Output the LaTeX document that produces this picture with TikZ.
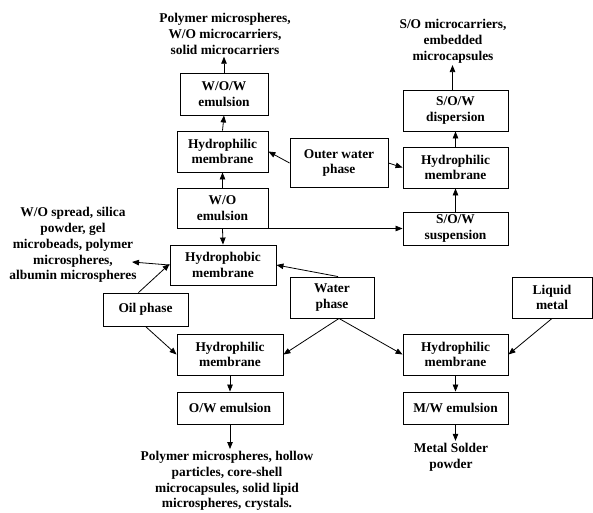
\documentclass[tikz,border=0pt]{standalone}
\usepackage{fontspec}
\setmainfont{Liberation Serif}
\usetikzlibrary{arrows.meta}
\begin{document}
\begin{tikzpicture}[x=1pt,y=-1pt,
  every node/.style={font=\bfseries\fontsize{13.4}{15.8}\selectfont, align=center},
  box/.style={draw, line width=0.9pt, inner sep=1pt},
  lbl/.style={inner sep=2pt},
  arr/.style={line width=0.8pt, -{Triangle[length=7pt,width=5.5pt]}}]
\useasboundingbox (0,0) rectangle (593,512);
% boxes
\node[box, minimum width=88pt, minimum height=42pt] (wow) at (224,94) {W/O/W\\emulsion};
\node[box, minimum width=91pt, minimum height=41pt] (hm1) at (222.5,151.5) {Hydrophilic\\membrane};
\node[box, minimum width=91pt, minimum height=40pt] (wo) at (222.5,208) {W/O\\emulsion};
\node[box, minimum width=106pt, minimum height=40pt] (hpho) at (223,265) {Hydrophobic\\membrane};
\node[box, minimum width=98pt, minimum height=49pt] (outer) at (339,163) {Outer water\\phase};
\node[box, minimum width=105pt, minimum height=41pt] (sowd) at (455.5,110.5) {S/O/W\\dispersion};
\node[box, minimum width=105pt, minimum height=41pt] (hm2) at (455.5,167.5) {Hydrophilic\\membrane};
\node[box, minimum width=105pt, minimum height=33pt] (sows) at (455.5,228.5) {S/O/W\\suspension};
\node[box, minimum width=85pt, minimum height=33pt] (oil) at (145.5,309.5) {Oil phase};
\node[box, minimum width=84pt, minimum height=41pt] (water) at (332,297.5) {Water\\phase};
\node[box, minimum width=80pt, minimum height=41pt] (liquid) at (552,297.5) {Liquid\\metal};
\node[box, minimum width=106pt, minimum height=41pt] (hm3) at (230,354.5) {Hydrophilic\\membrane};
\node[box, minimum width=106pt, minimum height=32pt] (ow) at (230,408) {O/W emulsion};
\node[box, minimum width=105pt, minimum height=41pt] (hm4) at (455.5,354.5) {Hydrophilic\\membrane};
\node[box, minimum width=105pt, minimum height=32pt] (mw) at (455.5,408) {M/W emulsion};
% text labels
\node[lbl] (top1) at (225,34) {Polymer microspheres,\\W/O microcarriers,\\solid microcarriers};
\node[lbl] (top2) at (453,41) {S/O microcarriers,\\embedded\\microcapsules};
\node[lbl] (left) at (73,245) {W/O spread, silica\\powder, gel\\microbeads, polymer\\microspheres,\\albumin microspheres};
\node[lbl] (bot) at (227,481) {Polymer microspheres, hollow\\particles, core-shell\\microcapsules, solid lipid\\microspheres, crystals.};
\node[lbl] (metal) at (451,457) {Metal Solder\\powder};
\coordinate (lt) at (132,262);
% connectors
\draw[arr] (wow.north) -- (wow.north |- top1.south);
\draw[arr] (hm1.north) -- (wow.south);
\draw[arr] (wo.north) -- (hm1.south);
\draw[arr] (wo.south) -- (hpho.north);
\draw[arr] (wo.south east) -- (sows.west);
\draw[arr] (sows.north) -- (hm2.south);
\draw[arr] (hm2.north) -- (sowd.south);
\draw[arr] ([xshift=-3pt]sowd.north) -- ([xshift=-3pt]sowd.north |- top2.south);
\draw[arr] (outer.west) -- (hm1.east);
\draw[arr] (outer.east) -- (hm2.west);
\draw[arr] (hpho.west) -- (lt);
\draw[arr] ([xshift=-7pt]oil.north) -- ([yshift=1pt]hpho.west);
\draw[arr] ([xshift=6pt]water.north) -- (hpho.east);
\draw[arr] (oil.south) -- (hm3.west);
\draw[arr] ([xshift=7pt]water.south) -- (hm3.east);
\draw[arr] ([xshift=7pt]water.south) -- (hm4.west);
\draw[arr] (liquid.south) -- (hm4.east);
\draw[arr] (hm3.south) -- (ow.north);
\draw[arr] (ow.south) -- (ow.south |- bot.north);
\draw[arr] (hm4.south) -- (mw.north);
\draw[arr] (mw.south) -- (mw.south |- metal.north);
\end{tikzpicture}
\end{document}
